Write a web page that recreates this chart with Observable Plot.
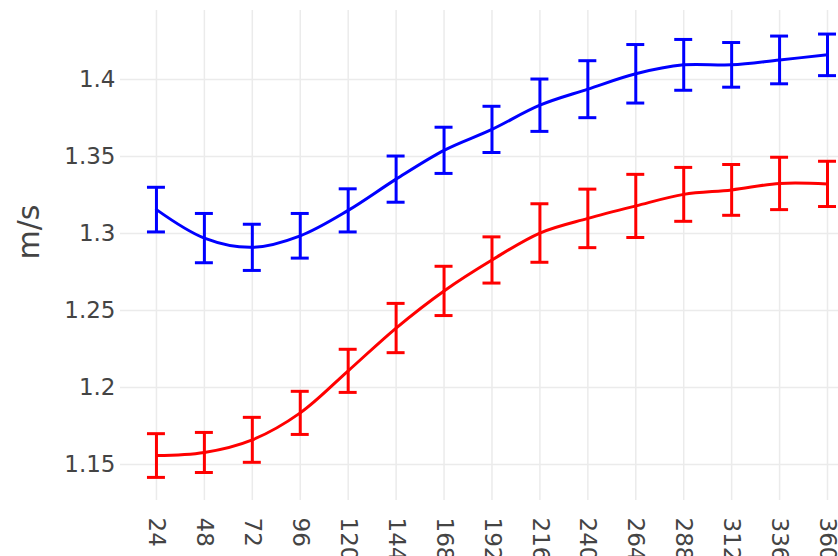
<!DOCTYPE html>
<html>
<head>
<meta charset="utf-8">
<script src="https://cdn.jsdelivr.net/npm/d3@7"></script>
<script src="https://cdn.jsdelivr.net/npm/@observablehq/plot@0.6"></script>
<style>
  html, body { margin: 0; padding: 0; background: #fff; }
  #chart { width: 838px; height: 556px; overflow: hidden; }
</style>
</head>
<body>
<div id="chart"></div>
<script>
const hours = [24, 48, 72, 96, 120, 144, 168, 192, 216, 240, 264, 288, 312, 336, 360];
const blueMean = [1.3155, 1.297, 1.291, 1.2985, 1.315, 1.3353, 1.354, 1.3676, 1.3833, 1.3937, 1.4037, 1.4095, 1.4095, 1.4127, 1.416];
const blueErr  = [0.0145, 0.016, 0.015, 0.0145, 0.014, 0.015, 0.015, 0.015, 0.017, 0.0185, 0.019, 0.0165, 0.0145, 0.0155, 0.0135];
const redMean  = [1.1558, 1.1578, 1.166, 1.1835, 1.2108, 1.2386, 1.2627, 1.2828, 1.3003, 1.3098, 1.3179, 1.3254, 1.3283, 1.3325, 1.3322];
const redErr   = [0.0142, 0.013, 0.0146, 0.014, 0.014, 0.016, 0.016, 0.015, 0.019, 0.019, 0.0205, 0.0175, 0.0165, 0.017, 0.0147];
const yTicks = [1.15, 1.2, 1.25, 1.3, 1.35, 1.4];
const yTickLabels = ["1.15", "1.2", "1.25", "1.3", "1.35", "1.4"];
const seriesColors = {blue: "#0000ff", red: "#ff0000"};

const rows = [];
hours.forEach((h, i) => {
  rows.push({series: "blue", x: h, y: blueMean[i], e: blueErr[i]});
  rows.push({series: "red", x: h, y: redMean[i], e: redErr[i]});
});

const capHalf = 4.5; // in x units (~9px)
const font = "'DejaVu Sans', Verdana, sans-serif";

const chart = Plot.plot({
  width: 838,
  height: 556,
  marginTop: 10,
  marginBottom: 56,
  marginLeft: 120,
  marginRight: 0,
  style: {fontFamily: font, fontSize: "23px", color: "#444", background: "#fff"},
  x: {domain: [6, 365.5], ticks: hours, tickSize: 0, tickPadding: 17, tickRotate: 90, label: null, tickFormat: d => String(d)},
  y: {domain: [1.1266, 1.4448], ticks: yTicks, tickSize: 0, tickPadding: 5, tickFormat: (d, i) => yTickLabels[i], label: null},
  marks: [
    Plot.ruleX(hours, {x: d => d, stroke: "#ebebeb", strokeWidth: 1.5}),
    Plot.ruleY(yTicks, {y: d => d, stroke: "#ebebeb", strokeWidth: 1.5}),
    Plot.line(rows, {x: "x", y: "y", z: "series", stroke: d => seriesColors[d.series], strokeWidth: 3, curve: "catmull-rom"}),
    Plot.ruleX(rows, {x: "x", y1: d => d.y - d.e, y2: d => d.y + d.e, stroke: d => seriesColors[d.series], strokeWidth: 3}),
    Plot.ruleY(rows, {y: d => d.y - d.e, x1: d => d.x - capHalf, x2: d => d.x + capHalf, stroke: d => seriesColors[d.series], strokeWidth: 3}),
    Plot.ruleY(rows, {y: d => d.y + d.e, x1: d => d.x - capHalf, x2: d => d.x + capHalf, stroke: d => seriesColors[d.series], strokeWidth: 3}),
    Plot.text(["m/s"], {frameAnchor: "left", dx: -91, dy: 4, rotate: -90, fontSize: 30, fill: "#444"})
  ]
});
document.getElementById("chart").appendChild(chart);
</script>
</body>
</html>
